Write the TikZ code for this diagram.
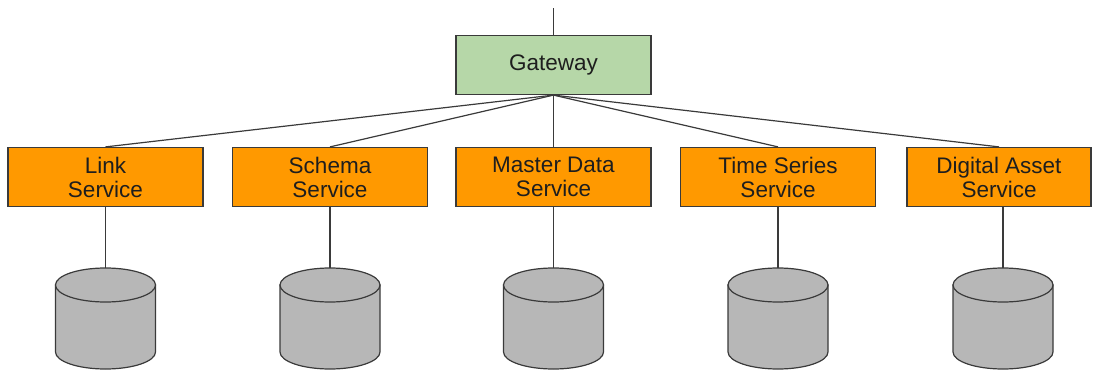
\documentclass[tikz,border=0pt]{standalone}
\usepackage{fontspec}
\setmainfont{Liberation Sans}
\definecolor{gwgreen}{HTML}{B6D7A8}
\definecolor{svcorange}{HTML}{FF9900}
\definecolor{dbgrey}{HTML}{B7B7B7}
\definecolor{edge}{HTML}{3A3A3A}
\definecolor{txt}{HTML}{1E1E1E}
\tikzset{
  box/.style={draw=edge, line width=1.2pt, minimum width=195pt, minimum height=59pt,
    align=center, text=txt, font=\fontsize{22.5}{24}\selectfont, inner sep=0pt},
  gw/.style={box, fill=gwgreen},
  svc/.style={box, fill=svcorange},
  dbline/.style={draw=edge, line width=1.2pt, fill=dbgrey},
  conn/.style={draw=edge, line width=1.2pt}
}
\begin{document}
\begin{tikzpicture}[x=1pt,y=-1pt]
\useasboundingbox (0,0) rectangle (1094,372);
\coordinate (in) at (553.5,8);
\node[gw] (gw) at (553.5,65) {Gateway};
\foreach \i/\cx/\bx/\w/\t in {1/105.5/105.5/195/{Link\\Service},2/330/330/195/{Schema\\Service},3/553.5/553.5/195/{Master Data\\Service},4/778/778/195/{Time Series\\Service},5/1003/999/184/{Digital Asset\\Service}}{
  \node[svc, minimum width=\w pt] (s\i) at (\bx,177) {\t};
  \path[dbline] (\cx-50,285) -- (\cx-50,352) arc[start angle=180, end angle=0, x radius=50, y radius=17] -- (\cx+50,285) -- cycle;
  \path[dbline] (\cx,285) ellipse[x radius=50, y radius=17];
  \coordinate (d\i) at (\cx,268);
}
\draw[conn] (in) -- (gw.north);
\foreach \i in {1,...,5}{
  \draw[conn] (gw.south) -- (s\i.north);
  \draw[conn] (s\i.south -| d\i) -- (d\i);
}
\end{tikzpicture}
\end{document}
